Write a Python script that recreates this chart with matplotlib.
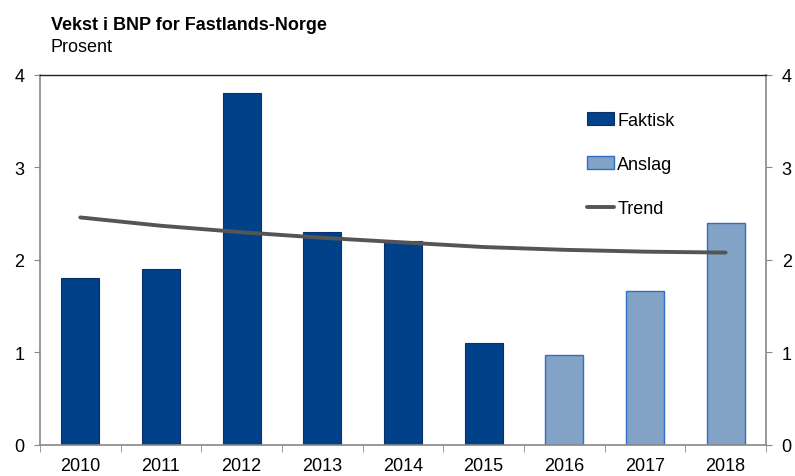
import matplotlib.pyplot as plt
import numpy as np

plt.rcParams['font.family'] = ['Liberation Sans', 'DejaVu Sans']

years = ['2010', '2011', '2012', '2013', '2014', '2015', '2016', '2017', '2018']
faktisk = [1.8, 1.9, 3.8, 2.3, 2.2, 1.1, np.nan, np.nan, np.nan]
anslag = [np.nan, np.nan, np.nan, np.nan, np.nan, np.nan, 0.97, 1.67, 2.4]
trend = [2.46, 2.37, 2.30, 2.24, 2.19, 2.14, 2.11, 2.09, 2.08]

x = np.arange(len(years))

fig = plt.figure(figsize=(7.95, 4.77), dpi=100)
ax = fig.add_axes([0.0503, 0.065, 0.9132, 0.7757])

b1 = ax.bar(x, faktisk, width=0.47, color='#00418A', edgecolor='#0A2F6B', linewidth=0.8, label='Faktisk', zorder=2)
b2 = ax.bar(x, anslag, width=0.47, color='#82A3C5', edgecolor='#2F6FC4', linewidth=1.0, label='Anslag', zorder=2)
l1, = ax.plot(x, trend, color='#555555', linewidth=2.8, solid_capstyle='round', label='Trend', zorder=3)

ax.set_xlim(-0.5, len(years) - 0.5)
ax.set_ylim(0, 4)
ax.set_yticks([0, 1, 2, 3, 4])
ax.set_xticks(x)
ax.set_xticklabels(years)
ax.set_xticks(np.arange(-0.5, len(years)), minor=True)
ax.tick_params(axis='x', which='major', length=0, labelsize=13, pad=9)
ax.tick_params(axis='x', which='minor', length=5, color='#888888', direction='out')
ax.tick_params(axis='y', length=4.3, color='#888888', labelsize=13, pad=7,
               right=True, labelright=True)

for side in ['left', 'right', 'bottom']:
    ax.spines[side].set_color('#888888')
    ax.spines[side].set_linewidth(1.2)
ax.spines['top'].set_color('#222222')
ax.spines['top'].set_linewidth(1.0)

# legend order as in the original: Faktisk, Anslag, Trend
ax.legend([b1, b2, l1], ['Faktisk', 'Anslag', 'Trend'],
          loc='upper left', bbox_to_anchor=(0.753, 0.90), frameon=False,
          fontsize=13, handlelength=1.5, handletextpad=0.2,
          labelspacing=1.5, borderpad=0, borderaxespad=0)

fig.text(0.064, 0.937, 'Vekst i BNP for Fastlands-Norge', fontsize=13, fontweight='bold', va='baseline')
fig.text(0.064, 0.891, 'Prosent', fontsize=13, va='baseline')

fig.savefig('out.png', dpi=100)
